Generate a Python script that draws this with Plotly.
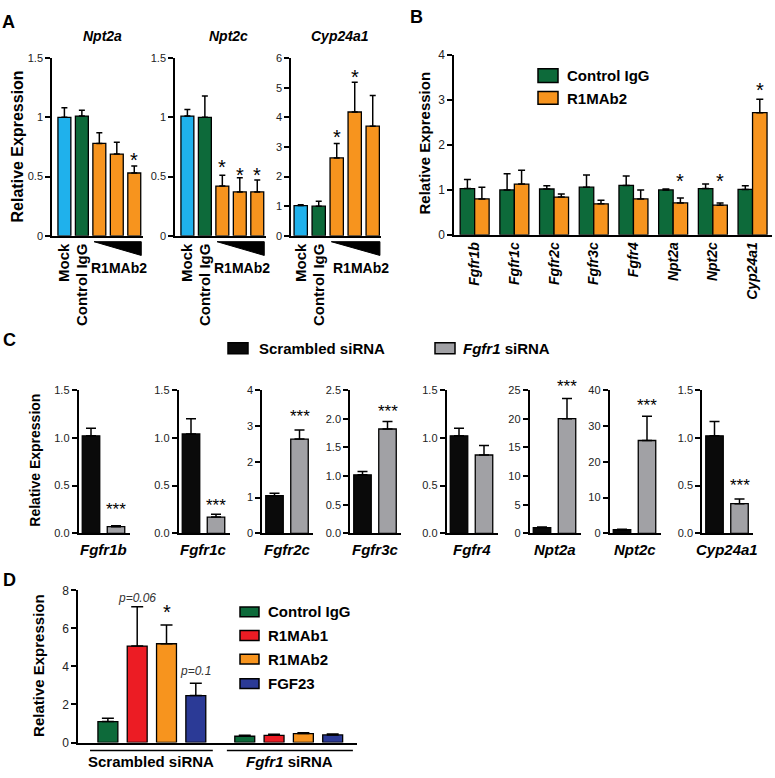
import plotly.graph_objects as go

# ---------------- data ----------------
A_titles = ["Npt2a", "Npt2c", "Cyp24a1"]
A_labels = ["Mock", "Control IgG"]
A_npt2a = [1.0, 1.01, 0.78, 0.69, 0.53]
A_npt2a_err = [0.08, 0.05, 0.09, 0.10, 0.06]
A_npt2c = [1.01, 1.0, 0.42, 0.37, 0.37]
A_npt2c_err = [0.055, 0.18, 0.09, 0.12, 0.10]
A_cyp = [1.02, 1.0, 2.63, 4.18, 3.70]
A_cyp_err = [0.03, 0.17, 0.49, 1.0, 1.04]
A_star_x = [[4], [2, 3, 4], [2, 3]]
A_star_y = [[0.68], [0.62, 0.555, 0.555], [3.5, 5.53]]

B_genes = ["Fgfr1b", "Fgfr1c", "Fgfr2c", "Fgfr3c", "Fgfr4", "Npt2a", "Npt2c", "Cyp24a1"]
B_ctrl = [1.03, 1.0, 1.02, 1.06, 1.10, 1.0, 1.03, 1.01]
B_ctrl_err = [0.20, 0.36, 0.07, 0.27, 0.21, 0.02, 0.10, 0.08]
B_r1 = [0.80, 1.13, 0.84, 0.69, 0.80, 0.71, 0.66, 2.72]
B_r1_err = [0.26, 0.31, 0.07, 0.08, 0.20, 0.11, 0.05, 0.30]
B_star_y = {"Npt2a": 1.31, "Npt2c": 1.31, "Cyp24a1": 3.32}

C_genes = ["Fgfr1b", "Fgfr1c", "Fgfr2c", "Fgfr3c", "Fgfr4", "Npt2a", "Npt2c", "Cyp24a1"]
C_scr = [1.02, 1.04, 1.05, 1.02, 1.02, 1.0, 1.0, 1.02]
C_scr_err = [0.08, 0.16, 0.07, 0.06, 0.08, 0.10, 0.15, 0.15]
C_fg = [0.07, 0.17, 2.63, 1.82, 0.82, 20.0, 25.9, 0.31]
C_fg_err = [0.01, 0.03, 0.25, 0.13, 0.10, 3.5, 6.8, 0.05]
C_ymax = [1.5, 1.5, 4, 2.5, 1.5, 25, 40, 1.5]
C_dtick = [0.5, 0.5, 1, 0.5, 0.5, 5, 10, 0.5]
C_star_y = [0.29, 0.33, 3.36, 2.2, None, 26.2, 36.8, 0.54]

D_groups = ["Scrambled siRNA", "<i>Fgfr1</i> siRNA"]
D_series = ["Control IgG", "R1MAb1", "R1MAb2", "FGF23"]
D_ctrl = [1.10, 0.33]
D_ctrl_err = [0.18, 0.05]
D_r1mab1 = [5.07, 0.38]
D_r1mab1_err = [2.07, 0.05]
D_r1mab2 = [5.19, 0.47]
D_r1mab2_err = [0.99, 0.05]
D_fgf23 = [2.47, 0.40]
D_fgf23_err = [0.65, 0.05]
D_notes = [(1, 7.62, "p=0.06"), (2, 7.1, "*"), (3, 3.78, "p=0.1")]

# ---------------- style ----------------
W, H = 775, 778
FONT = "Arial, 'Liberation Sans', sans-serif"
BLUE = "#1fb1ec"
GREEN = "#0d6a3a"
ORANGE = "#f7941e"
RED = "#ec1c24"
NAVY = "#2b3a96"
BLACK = "#0a0a0a"
GRAY = "#a1a1a5"


def px(x):
    return x / W


def py(y):
    return 1 - y / H


fig = go.Figure()
layout = {}
annotations = []
shapes = []


def names(i):
    return ("x" if i == 1 else f"x{i}"), ("y" if i == 1 else f"y{i}")


def add_axes(i, xd, yd, xr, yr, xkw=None, ykw=None, tsize=11):
    xn, yn = names(i)
    base = dict(showline=True, linecolor="black", linewidth=1.5, showgrid=False,
                zeroline=False, ticks="outside", ticklen=5, tickwidth=1.5,
                tickcolor="black", fixedrange=True,
                tickfont=dict(family=FONT, size=tsize, color="#222"))
    xa = dict(base, domain=[px(xd[0]), px(xd[1])], anchor=yn, range=xr,
              ticks="", showticklabels=False)
    ya = dict(base, domain=[py(yd[1]), py(yd[0])], anchor=xn, range=yr)
    if xkw:
        xa.update(xkw)
    if ykw:
        ya.update(ykw)
    layout["xaxis" if i == 1 else f"xaxis{i}"] = xa
    layout["yaxis" if i == 1 else f"yaxis{i}"] = ya
    return xn, yn


def err(arr, w=3.5):
    return dict(type="data", array=arr, arrayminus=[0] * len(arr), symmetric=False,
                color="black", thickness=1.5, width=w)


def star(xn, yn, x, y, text="*", size=20, ymax=None, pxu=None):
    shift = -0.23 * size
    if ymax is not None and y > ymax:
        shift += (y - ymax) * pxu
        y = ymax
    annotations.append(dict(x=x, y=y, xref=xn, yref=yn, text=text, showarrow=False,
                            yanchor="middle", yshift=shift,
                            font=dict(family=FONT, size=size, color="black")))


def ptext(x, y, text, size=15, angle=0, xanchor="center", bold=True, italic=False, color="black"):
    annotations.append(dict(x=px(x), y=py(y), xref="paper", yref="paper", text=text,
                            showarrow=False, textangle=angle, xanchor=xanchor,
                            yanchor="middle",
                            font=dict(family=FONT, size=size, color=color,
                                      weight="bold" if bold else "normal",
                                      style="italic" if italic else "normal")))


def box(x0, y0, x1, y1, color):
    shapes.append(dict(type="rect", xref="paper", yref="paper", x0=px(x0), x1=px(x1),
                       y0=py(y1), y1=py(y0), fillcolor=color,
                       line=dict(color="black", width=1.5)))


# ---------------- panel A ----------------
A_vals = [(A_npt2a, A_npt2a_err), (A_npt2c, A_npt2c_err), (A_cyp, A_cyp_err)]
A_dom = [(52, 143), (175, 266), (291, 381)]
A_xr = [[-0.71, 4.5], [-0.71, 4.5], [-0.54, 4.46]]
A_yr = [[0, 1.5], [0, 1.5], [0, 6]]
A_dt = [0.5, 0.5, 1]
A_title_x = [102, 228, 340]
A_lab_x = [3.15, 3.15, 3.35]
A_colors = [BLUE, GREEN, ORANGE, ORANGE, ORANGE]
for k in range(3):
    i = k + 1
    xn, yn = add_axes(i, A_dom[k], (52, 233), A_xr[k], A_yr[k],
                      xkw=dict(showticklabels=True, tickmode="array", tickvals=[0, 1],
                               ticktext=A_labels, tickangle=-90,
                               tickfont=dict(family=FONT, size=15, color="black", weight="bold")),
                      ykw=dict(dtick=A_dt[k], tick0=0))
    vals, errs = A_vals[k]
    fig.add_trace(go.Bar(x=list(range(5)), y=vals, xaxis=xn, yaxis=yn, width=0.74,
                         marker=dict(color=A_colors, line=dict(color="black", width=1.3)),
                         error_y=err(errs, 3), showlegend=False))
    for sx, sy in zip(A_star_x[k], A_star_y[k]):
        star(xn, yn, sx, sy)
    ptext(A_title_x[k], 30, A_titles[k], size=14, italic=True)
    # dose wedge
    y0, y1 = py(239), py(253)
    shapes.append(dict(type="path", xref=xn, yref="paper",
                       path=f"M 1.7,{y0} L 4.4,{y0} L 4.4,{y1} Z",
                       fillcolor="black", line=dict(color="black", width=1)))
    annotations.append(dict(x=A_lab_x[k], y=py(266), xref=xn, yref="paper", text="R1MAb2",
                            showarrow=False, yanchor="middle",
                            font=dict(family=FONT, size=14, color="black", weight="bold")))
ptext(17, 142, "Relative Expression", size=16, angle=-90)
ptext(8, 15, "A", size=18)

# ---------------- panel B ----------------
xn, yn = add_axes(4, (454, 772), (49, 232), [-0.52, 7.49], [0, 4],
                  xkw=dict(showticklabels=True, tickangle=-90,
                           tickfont=dict(family=FONT, size=14, color="black",
                                         weight="bold", style="italic")),
                  ykw=dict(dtick=1, tick0=0), tsize=12)
fig.add_trace(go.Bar(x=B_genes, y=B_ctrl, xaxis=xn, yaxis=yn, name="Control IgG",
                     marker=dict(color=GREEN, line=dict(color="black", width=1.3)),
                     error_y=err(B_ctrl_err), showlegend=False))
fig.add_trace(go.Bar(x=B_genes, y=B_r1, xaxis=xn, yaxis=yn, name="R1MAb2",
                     marker=dict(color=ORANGE, line=dict(color="black", width=1.3)),
                     error_y=err(B_r1_err), showlegend=False))
for g, sy in B_star_y.items():
    gi = B_genes.index(g)
    star(xn, yn, gi + 0.18, sy)
box(538, 63, 558, 77, GREEN)
ptext(565, 70, "Control IgG", xanchor="left")
box(538, 86, 558, 99, ORANGE)
ptext(565, 93, "R1MAb2", xanchor="left")
ptext(424, 139, "Relative Expression", size=15, angle=-90)
ptext(416, 10, "B", size=18)

# ---------------- panel C ----------------
C_x0 = [78.5, 178.5, 262, 350, 446.5, 529.5, 609.5, 702]
for k in range(8):
    i = 5 + k
    x0 = C_x0[k]
    fmt = ".1f" if C_dtick[k] < 1 else "d"
    xn, yn = add_axes(i, (x0, x0 + 51.25), (390, 536), [-0.5, 1.55], [0, C_ymax[k]],
                      ykw=dict(dtick=C_dtick[k], tick0=0, tickformat=fmt))
    fig.add_trace(go.Bar(x=[0, 1], y=[C_scr[k], C_fg[k]], xaxis=xn, yaxis=yn, width=0.7,
                         marker=dict(color=[BLACK, GRAY], line=dict(color="black", width=1.3)),
                         error_y=err([C_scr_err[k], C_fg_err[k]], 5), showlegend=False))
    if C_star_y[k] is not None:
        star(xn, yn, 1, C_star_y[k], text="***", size=17,
             ymax=C_ymax[k], pxu=146 / C_ymax[k])
    ptext(x0 + 25, 552, C_genes[k], size=15, italic=True)
box(228, 342, 248, 353, BLACK)
ptext(257, 347.5, "Scrambled siRNA", xanchor="left")
box(435, 342, 455, 353, GRAY)
ptext(461, 347.5, "<i>Fgfr1</i> siRNA", xanchor="left")
ptext(35, 462, "Relative Expression", size=14, angle=-90)
ptext(9, 339, "C", size=18)

# ---------------- panel D ----------------
xn, yn = add_axes(13, (78, 357), (594, 749), [-1.02, 8.5], [0, 8],
                  ykw=dict(dtick=2, tick0=0), tsize=12)
D_base = [0, 4.67]
D_vals = [(D_ctrl, D_ctrl_err, GREEN), (D_r1mab1, D_r1mab1_err, RED),
          (D_r1mab2, D_r1mab2_err, ORANGE), (D_fgf23, D_fgf23_err, NAVY)]
for s, (vals, errs, col) in enumerate(D_vals):
    fig.add_trace(go.Bar(x=[b + s for b in D_base], y=vals, xaxis=xn, yaxis=yn,
                         name=D_series[s], width=0.68, offset=-0.34,
                         marker=dict(color=col, line=dict(color="black", width=1.3)),
                         error_y=err(errs, 6), showlegend=False))
for x, y, t in D_notes:
    if t == "*":
        star(xn, yn, x, y)
    else:
        annotations.append(dict(x=x, y=y, xref=xn, yref=yn, text=t, showarrow=False,
                                yanchor="middle",
                                font=dict(family=FONT, size=12, color="#333", style="italic")))
# group underlines and labels
for g, (a, b) in enumerate([(-0.61, 3.58), (4.06, 8.36)]):
    shapes.append(dict(type="line", xref=xn, yref="paper", x0=a, x1=b,
                       y0=py(757), y1=py(757), line=dict(color="black", width=1.5)))
    annotations.append(dict(x=(a + b) / 2, y=py(768), xref=xn, yref="paper", text=D_groups[g],
                            showarrow=False, yanchor="middle",
                            font=dict(family=FONT, size=15, color="black", weight="bold")))
for s, (vals, errs, col) in enumerate(D_vals):
    yc = [616, 640, 664, 689][s]
    box(240, yc - 5, 259, yc + 5, col)
    ptext(266, yc, D_series[s], xanchor="left")
ptext(39, 671, "Relative Expression", size=15, angle=-90)
ptext(9, 584, "D", size=18)

fig.update_layout(width=W, height=H, margin=dict(l=0, r=0, t=0, b=0),
                  paper_bgcolor="white", plot_bgcolor="white",
                  barmode="group", bargap=0.27, bargroupgap=0,
                  font=dict(family=FONT), showlegend=False,
                  annotations=annotations, shapes=shapes, **layout)
fig.write_html("out.html", config={"displayModeBar": False},
               post_script="document.body.style.margin='0';"
                           "document.body.style.overflow='hidden';")
